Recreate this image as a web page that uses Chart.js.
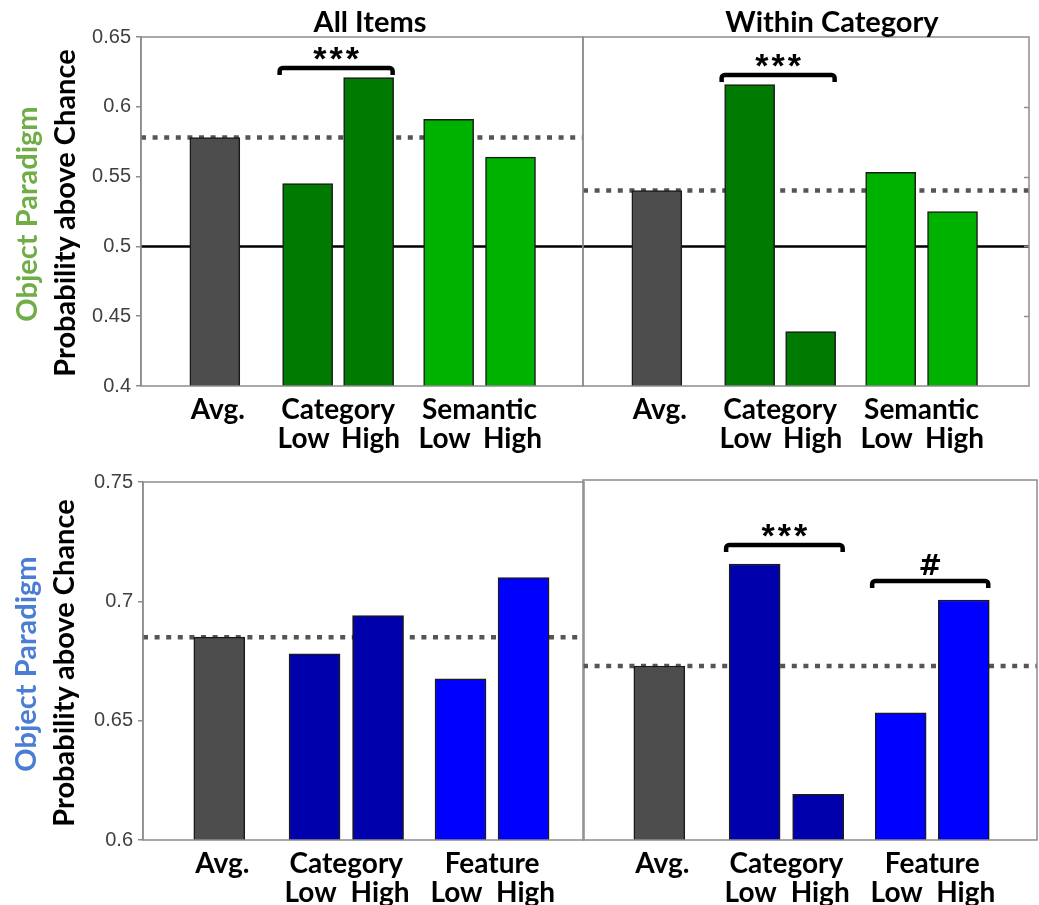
<!DOCTYPE html>
<html>
<head>
<meta charset="utf-8">
<title>Probability above Chance</title>
<script src="https://cdn.jsdelivr.net/npm/chart.js@4.4.1/dist/chart.umd.min.js"></script>
<style>
  html, body { margin: 0; padding: 0; background: #ffffff; }
  #fig { position: relative; width: 1039px; height: 905px; overflow: hidden; background: #ffffff; }
  #fig canvas { position: absolute; }
  .rowlab {
    position: absolute;
    transform: translate(-50%, -50%) rotate(-90deg);
    white-space: nowrap;
    font-family: Lato, "Open Sans", sans-serif;
    font-weight: 700;
    font-size: 29px;
    line-height: 1;
  }
</style>
</head>
<body>
<div id="fig">
  <canvas id="pTL"></canvas>
  <canvas id="pTR"></canvas>
  <canvas id="pBL"></canvas>
  <canvas id="pBR"></canvas>
  <div class="rowlab" id="topPar" style="left:25px; top:214px; color:#70ad47;"></div>
  <div class="rowlab" id="topMeas" style="left:63px; top:213px; color:#000;"></div>
  <div class="rowlab" id="botPar" style="left:24px; top:664px; color:#4a7ed4;"></div>
  <div class="rowlab" id="botMeas" style="left:62px; top:663px; color:#000;"></div>
</div>
<script>
// ---- labels ----
const panelTitles = ['All Items', 'Within Category'];
const groupNamesTop = ['Avg.', 'Category', 'Semantic'];
const groupNamesBottom = ['Avg.', 'Category', 'Feature'];
const levelNames = ['Low', 'High'];
const paradigmLabels = ['Object Paradigm', 'Object Paradigm'];
const measureLabel = 'Probability above Chance';

// ---- values: Avg., Category Low, Category High, second factor Low, High ----
const allItemsTop    = [0.578, 0.545, 0.621, 0.591, 0.564];
const withinTop      = [0.540, 0.616, 0.439, 0.553, 0.525];
const allItemsBottom = [0.685, 0.678, 0.694, 0.6675, 0.710];
const withinBottom   = [0.6725, 0.715, 0.619, 0.653, 0.700];
const chanceLevel = 0.5;

// ---- y axis ranges ----
const yRangeTop = [0.4, 0.65];
const yRangeBottom = [0.6, 0.75];
const yStep = 0.05;

// ---- significance marks: [first bar, second bar, mark] ----
const sigAllTop = [[1, 2, '***']];
const sigWithinTop = [[1, 2, '***']];
const sigAllBottom = [];
const sigWithinBottom = [[1, 2, '***'], [3, 4, '#']];

// ---- layout (bar slot centres on a 0..100 axis) ----
const slotsTop = [16.7, 37.7, 51.5, 69.6, 83.6];
const slotsBottom = [17.3, 38.9, 53.3, 72.0, 86.3];
const barGroups = [[0], [1, 2], [3, 4]];

document.getElementById('topPar').textContent = paradigmLabels[0];
document.getElementById('topMeas').textContent = measureLabel;
document.getElementById('botPar').textContent = paradigmLabels[1];
document.getElementById('botMeas').textContent = measureLabel;

const LABEL_FONT = 'Lato, "Open Sans", sans-serif';
const FRAME = '#8c8c8c';

function fmtTick(v) { return String(+v.toFixed(2)); }

function buildPanel(id, cfg) {
  const canvas = document.getElementById(id);
  canvas.width = cfg.w; canvas.height = cfg.h;
  canvas.style.left = cfg.left + 'px'; canvas.style.top = cfg.top + 'px';

  const vals = cfg.values;
  const datasets = [{
    type: 'bar',
    data: vals.map((v, i) => ({ x: cfg.slots[i], y: v })),
    backgroundColor: cfg.colors,
    borderColor: '#1a1a1a',
    borderWidth: 1.5,
    borderSkipped: 'start',
    barThickness: cfg.barW,
    order: 1
  }, {
    type: 'line',
    data: [{ x: 0, y: vals[0] }, { x: cfg.xMax, y: vals[0] }],
    borderColor: '#555555',
    borderWidth: 4.5,
    borderDash: [5, 6.6],
    borderCapStyle: 'butt',
    pointRadius: 0,
    order: 2
  }];
  if (cfg.chance !== null) {
    datasets.push({
      type: 'line',
      data: [{ x: 0, y: cfg.chance }, { x: cfg.xMax, y: cfg.chance }],
      borderColor: '#000000',
      borderWidth: 2.5,
      pointRadius: 0,
      order: 3
    });
  }

  const decor = {
    id: 'decor',
    afterDatasetsDraw(chart) {
      const ctx = chart.ctx;
      const a = chart.chartArea;
      const xs = chart.scales.x, ys = chart.scales.y;
      ctx.save();
      // frame
      ctx.strokeStyle = FRAME;
      ctx.lineWidth = 1.5;
      ctx.strokeRect(a.left, a.top, a.right - a.left, a.bottom - a.top);
      if (cfg.innerRightTicks) {
        for (let v = cfg.yRange[0] + yStep; v < cfg.yRange[1] - 1e-9; v += yStep) {
          const py = Math.round(ys.getPixelForValue(v)) + 0.5;
          ctx.beginPath();
          ctx.moveTo(a.right - 5, py); ctx.lineTo(a.right, py);
          ctx.stroke();
        }
      }
      // significance brackets
      ctx.strokeStyle = '#000'; ctx.fillStyle = '#000';
      ctx.lineWidth = 4.5;
      ctx.lineJoin = 'round';
      cfg.sig.forEach(([i, j, mark]) => {
        const x1 = xs.getPixelForValue(cfg.slots[i]) - cfg.barW / 2 - 3;
        const x2 = xs.getPixelForValue(cfg.slots[j]) + cfg.barW / 2 - 1;
        const yb = ys.getPixelForValue(Math.max(vals[i], vals[j])) - cfg.sigGap;
        const drop = 7, r = 3;
        ctx.beginPath();
        ctx.moveTo(x1, yb + drop);
        ctx.lineTo(x1, yb + r);
        ctx.arcTo(x1, yb, x1 + r, yb, r);
        ctx.lineTo(x2 - r, yb);
        ctx.arcTo(x2, yb, x2, yb + r, r);
        ctx.lineTo(x2, yb + drop);
        ctx.stroke();
        ctx.textAlign = 'center';
        ctx.textBaseline = 'alphabetic';
        if (mark === '#') {
          ctx.font = 'bold 28px "DejaVu Sans", sans-serif';
          ctx.fillText(mark, (x1 + x2) / 2, yb - 6);
        } else {
          ctx.font = 'bold 34px "Liberation Sans", Arial, sans-serif';
          ctx.letterSpacing = '3px';
          ctx.fillText(mark, (x1 + x2) / 2 + 1.5, yb + 2);
          ctx.letterSpacing = '0px';
        }
      });
      ctx.restore();
    },
    afterDraw(chart) {
      const ctx = chart.ctx;
      const a = chart.chartArea;
      const xs = chart.scales.x;
      ctx.save();
      ctx.fillStyle = '#000';
      ctx.textAlign = 'center';
      ctx.textBaseline = 'alphabetic';
      ctx.font = 'bold 29px ' + LABEL_FONT;
      if (cfg.title) {
        ctx.fillText(cfg.title, (a.left + a.right) / 2 + cfg.titleShift, a.top - 5);
      }
      ctx.font = 'bold 28px ' + LABEL_FONT;
      const cx = i => xs.getPixelForValue(cfg.slots[i]);
      barGroups.forEach((bars, g) => {
        const gx = bars.reduce((s, i) => s + cx(i), 0) / bars.length;
        ctx.fillText(cfg.groups[g], gx + (bars.length === 1 ? 3 : 0), a.bottom + 33);
        if (bars.length === 2) {
          ctx.fillText(levelNames[0], cx(bars[0]) - 4, a.bottom + 62);
          ctx.fillText(levelNames[1], cx(bars[1]) + 2, a.bottom + 62);
        }
      });
      ctx.restore();
    }
  };

  new Chart(canvas, {
    type: 'bar',
    data: { datasets },
    options: {
      responsive: false,
      animation: false,
      devicePixelRatio: 1,
      layout: { padding: { left: cfg.padL, top: cfg.padT, right: cfg.padR, bottom: cfg.padB } },
      plugins: { legend: { display: false }, tooltip: { enabled: false } },
      scales: {
        x: { type: 'linear', display: false, offset: false, min: 0, max: cfg.xMax },
        y: {
          display: cfg.showY,
          position: 'left',
          min: cfg.yRange[0],
          max: cfg.yRange[1],
          ticks: {
            stepSize: yStep,
            color: '#404040',
            padding: 5,
            font: { family: '"Liberation Sans", Arial, sans-serif', size: 20 },
            callback: fmtTick
          },
          grid: { display: true, drawOnChartArea: false, drawTicks: true, tickLength: 5, color: FRAME, lineWidth: 1.5 },
          border: { display: true, color: FRAME, width: 1.5 },
          afterFit(scale) { if (cfg.showY) scale.width = cfg.axisW; }
        }
      }
    },
    plugins: [decor]
  });
}

const greens = ['#4d4d4d', '#007a00', '#007a00', '#00b200', '#00b200'];
const blues  = ['#4d4d4d', '#0000ad', '#0000ad', '#0000ff', '#0000ff'];

buildPanel('pTL', {
  left: 0, top: 0, w: 586, h: 470, padL: 0, padT: 37, padR: 3, padB: 84, axisW: 141,
  showY: true, xMax: 100, slots: slotsTop, values: allItemsTop, colors: greens, barW: 50,
  yRange: yRangeTop, chance: chanceLevel, sig: sigAllTop, sigGap: 9.5,
  title: panelTitles[0], titleShift: 8, groups: groupNamesTop, innerRightTicks: false
});
buildPanel('pTR', {
  left: 560, top: 0, w: 479, h: 470, padL: 23, padT: 37, padR: 10, padB: 84, axisW: 0,
  showY: false, xMax: 100.9, slots: slotsTop, values: withinTop, colors: greens, barW: 50,
  yRange: yRangeTop, chance: chanceLevel, sig: sigWithinTop, sigGap: 9.5,
  title: panelTitles[1], titleShift: 26, groups: groupNamesTop, innerRightTicks: true
});
buildPanel('pBL', {
  left: 0, top: 465, w: 586, h: 440, padL: 0, padT: 15, padR: 2, padB: 65, axisW: 143,
  showY: true, xMax: 100, slots: slotsBottom, values: allItemsBottom, colors: blues, barW: 51,
  yRange: yRangeBottom, chance: null, sig: sigAllBottom, sigGap: 19,
  title: null, titleShift: 0, groups: groupNamesBottom, innerRightTicks: false
});
buildPanel('pBR', {
  left: 560, top: 465, w: 479, h: 440, padL: 23, padT: 15, padR: 2, padB: 65, axisW: 0,
  showY: false, xMax: 102.9, slots: slotsBottom, values: withinBottom, colors: blues, barW: 51,
  yRange: yRangeBottom, chance: null, sig: sigWithinBottom, sigGap: 19,
  title: null, titleShift: 0, groups: groupNamesBottom, innerRightTicks: false
});
</script>
</body>
</html>
